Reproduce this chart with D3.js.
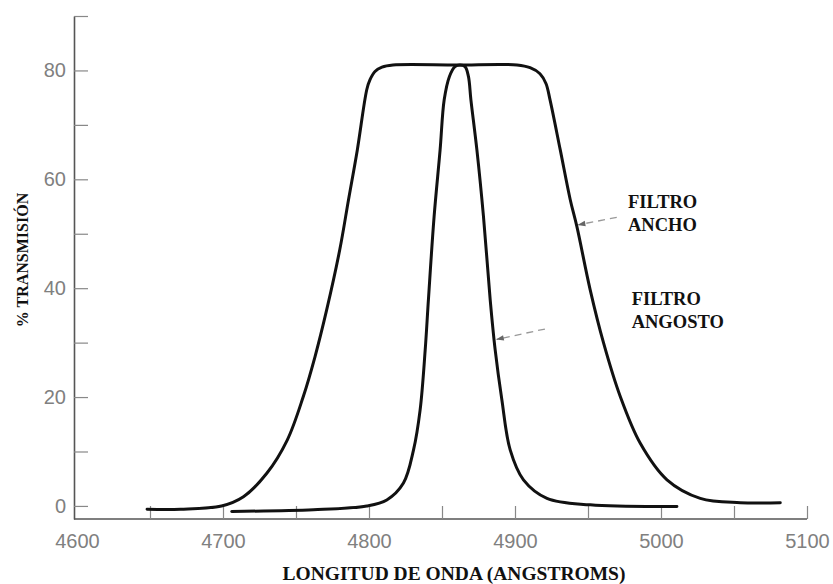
<!DOCTYPE html>
<html>
<head>
<meta charset="utf-8">
<script src="https://cdn.jsdelivr.net/npm/d3@7/dist/d3.min.js"></script>
<style>
  html, body { margin: 0; padding: 0; background: #fff; }
  svg { display: block; }
</style>
</head>
<body>
<svg id="chart" width="833" height="584"></svg>
<script>
// ---- Data ----
const wideWavelength = [4648, 4671, 4699, 4714, 4730, 4744, 4755, 4763, 4771, 4780, 4786, 4792, 4798.5, 4800.7, 4804.1, 4808.9, 4816.4,
                        4860, 4901.4, 4910.3, 4917.1, 4921.2, 4924, 4931, 4937.8, 4942.4, 4951.5, 4960.7, 4972.1, 4985.8, 5004.1, 5026.9, 5054.3, 5081.7];
const wideTransmission = [-0.6, -0.6, 0.0, 1.7, 6.0, 12.1, 20.1, 27.4, 36.0, 47.1, 56.3, 65.4, 76.5, 78.3, 79.8, 80.6, 81.0,
                          81.0, 81.0, 80.5, 79.4, 77.6, 74.6, 65.4, 56.3, 51.3, 39.7, 29.9, 20.1, 11.5, 4.8, 1.4, 0.6, 0.6];

const narrowWavelength = [4706, 4762, 4798.5, 4812.2, 4823.6, 4830.5, 4835, 4838.5, 4840.7, 4844.6, 4848.7, 4851.5, 4855.1, 4858.9, 4862.3,
                          4865.8, 4868.1, 4869.8, 4873.9, 4878.4, 4883, 4886.4, 4891, 4896.7, 4905.8, 4921.9, 4951.5, 5010.9];
const narrowTransmission = [-1.0, -0.7, 0.0, 1.1, 4.2, 10.3, 17.6, 28.7, 37.9, 53.2, 65.4, 74.6, 78.9, 80.7, 81.0,
                            80.7, 78.9, 74.6, 65.4, 53.2, 37.9, 28.7, 19.5, 10.3, 4.8, 1.4, 0.2, -0.1];

const xTickValues = [4600, 4650, 4700, 4750, 4800, 4850, 4900, 4950, 5000, 5050, 5100];
const xTickLabels = ["4600", "4700", "4800", "4900", "5000", "5100"];
const yTickValues = [0, 10, 20, 30, 40, 50, 60, 70, 80, 90];
const yTickLabels = ["0", "20", "40", "60", "80"];

const seriesLabels = [["FILTRO", "ANCHO"], ["FILTRO", "ANGOSTO"]];
// label anchor (wavelength, transmission of first baseline) and arrow endpoints
const labelAt = [[4977.4, 54.8], [4979.9, 37.0]];
const arrowFrom = [[4969.7, 53.0], [4920.5, 32.5]];
const arrowTo = [[4943.4, 51.65], [4887.5, 30.6]];

const xTitle = "LONGITUD DE ONDA (ANGSTROMS)";
const yTitle = "% TRANSMISIÓN";

// ---- Layout ----
const svg = d3.select("#chart");
const x = d3.scaleLinear().domain([4600, 5100]).range([77, 807]);
const y = d3.scaleLinear().domain([-2.4, 90]).range([519, 16]);
const yAxisX = x(4600) - 3;

const axisColor = "#555";
const tickTextColor = "#808080";

// Y axis
const yAxis = d3.axisLeft(y)
  .tickValues(yTickValues)
  .tickSize(-14)
  .tickSizeOuter(0)
  .tickPadding(8)
  .tickFormat(d => yTickLabels.includes(String(d)) ? String(d) : "");
const gy = svg.append("g").attr("transform", `translate(${yAxisX},0)`).call(yAxis);
gy.select(".domain").attr("stroke", axisColor).attr("stroke-width", 1.6);
gy.selectAll(".tick line").attr("stroke", "#888").attr("stroke-width", 1.2);
gy.selectAll(".tick text")
  .attr("fill", tickTextColor)
  .style("font-family", "'Liberation Sans', Arial, sans-serif")
  .style("font-size", "20px");

// X axis
const xAxis = d3.axisBottom(x)
  .tickValues(xTickValues)
  .tickSize(-13)
  .tickSizeOuter(0)
  .tickPadding(15)
  .tickFormat(d => xTickLabels.includes(String(d)) ? String(d) : "");
const gx = svg.append("g").attr("transform", `translate(0,${y(-2.4)})`).call(xAxis);
gx.select(".domain").attr("stroke", axisColor).attr("stroke-width", 1.4)
  .attr("d", `M${yAxisX},0H${x(5100)}`);
gx.selectAll(".tick line").attr("stroke", "#888").attr("stroke-width", 1.2);
gx.selectAll(".tick").filter(d => d === 4600).select("line").remove();
gx.selectAll(".tick text")
  .attr("fill", tickTextColor)
  .style("font-family", "'Liberation Sans', Arial, sans-serif")
  .style("font-size", "20px");

// Axis titles
svg.append("text")
  .attr("x", 454)
  .attr("y", 580)
  .attr("text-anchor", "middle")
  .attr("fill", "#111")
  .style("font-family", "'Liberation Serif', 'Times New Roman', serif")
  .style("font-weight", "bold")
  .style("font-size", "19.5px")
  .text(xTitle);

svg.append("text")
  .attr("transform", `translate(28,${260}) rotate(-90)`)
  .attr("text-anchor", "middle")
  .attr("fill", "#111")
  .style("font-family", "'Liberation Serif', 'Times New Roman', serif")
  .style("font-weight", "bold")
  .style("font-size", "16px")
  .text(yTitle);

// Curves
const line = d3.line()
  .x(d => x(d[0]))
  .y(d => y(d[1]))
  .curve(d3.curveCatmullRom.alpha(0.5));

const wideData = d3.zip(wideWavelength, wideTransmission);
const narrowData = d3.zip(narrowWavelength, narrowTransmission);

[wideData, narrowData].forEach(data => {
  svg.append("path")
    .datum(data)
    .attr("fill", "none")
    .attr("stroke", "#111")
    .attr("stroke-width", 3)
    .attr("stroke-linejoin", "round")
    .attr("stroke-linecap", "round")
    .attr("d", line);
});

// Arrow marker
svg.append("defs").append("marker")
  .attr("id", "arrow")
  .attr("viewBox", "0 0 10 10")
  .attr("refX", 9).attr("refY", 5)
  .attr("markerWidth", 7).attr("markerHeight", 6)
  .attr("orient", "auto")
  .append("path")
  .attr("d", "M0,1.5 L10,5 L0,8.5 Z")
  .attr("fill", "#666");

// Labels with arrows
seriesLabels.forEach((lines, i) => {
  svg.append("line")
    .attr("x1", x(arrowFrom[i][0])).attr("y1", y(arrowFrom[i][1]))
    .attr("x2", x(arrowTo[i][0])).attr("y2", y(arrowTo[i][1]))
    .attr("stroke", "#999")
    .attr("stroke-width", 1.3)
    .attr("stroke-dasharray", "7,5")
    .attr("marker-end", "url(#arrow)");
  const t = svg.append("text")
    .attr("x", x(labelAt[i][0]))
    .attr("y", y(labelAt[i][1]))
    .attr("fill", "#111")
    .style("font-family", "'Liberation Serif', 'Times New Roman', serif")
    .style("font-weight", "bold")
    .style("font-size", "18.5px");
  lines.forEach((s, j) => {
    t.append("tspan")
      .attr("x", x(labelAt[i][0]))
      .attr("dy", j === 0 ? 0 : 23)
      .text(s);
  });
});
</script>
</body>
</html>
